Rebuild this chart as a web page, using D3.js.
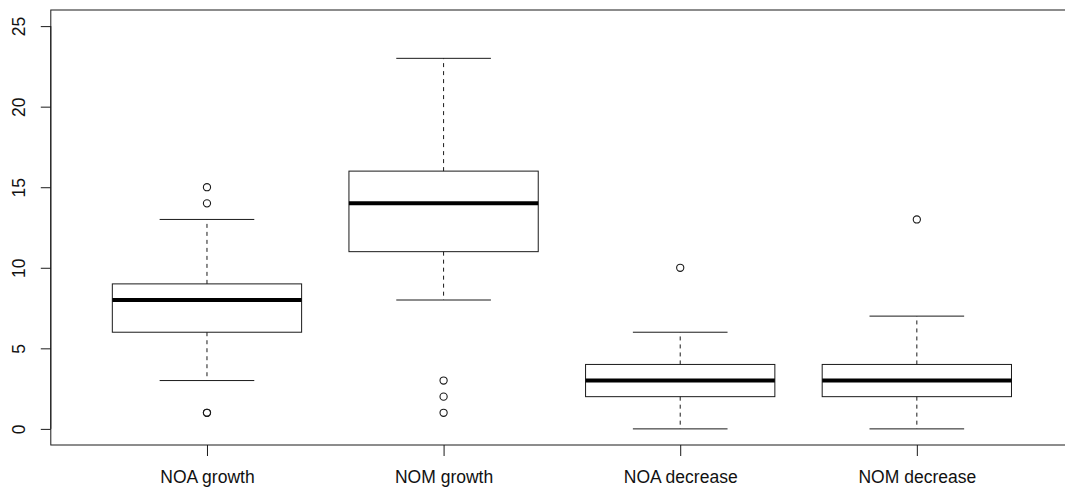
<!DOCTYPE html>
<html>
<head>
<meta charset="utf-8">
<script src="https://cdn.jsdelivr.net/npm/d3@7"></script>
<style>
  html, body { margin: 0; padding: 0; background: #fff; overflow: hidden; }
  svg { display: block; }
  text { font-family: "Liberation Sans", Arial, Helvetica, sans-serif; }
</style>
</head>
<body>
<svg id="chart" width="1065" height="489"></svg>
<script>
// Groups and their five-number summaries (whisker low, Q1, median, Q3, whisker high)
const categories = ["NOA growth", "NOM growth", "NOA decrease", "NOM decrease"];
const whiskerLow = [3, 8, 0, 0];
const q1 = [6, 11, 2, 2];
const median = [8, 14, 3, 3];
const q3 = [9, 16, 4, 4];
const whiskerHigh = [13, 23, 6, 7];
const outliers = [[1, 1, 14, 15], [1, 2, 3], [10], [13]];
const yTicks = [0, 5, 10, 15, 20, 25];

const svg = d3.select("#chart");

// Plot region (right edge runs past the window)
const plot = { left: 50.8, right: 1073, top: 10, bottom: 445 };

const x = d3.scaleLinear().domain([0.34, 4.66]).range([plot.left, plot.right]);
const y = d3.scaleLinear().domain([-1, 26]).range([plot.bottom, plot.top]);

const boxHalf = x(1.4) - x(1);      // half of a 0.8-wide box
const capHalf = boxHalf / 2;

const stats = categories.map((c, i) => ({
  name: c, pos: i + 1,
  lo: whiskerLow[i], q1: q1[i], med: median[i], q3: q3[i], hi: whiskerHigh[i],
  out: outliers[i]
}));

const g = svg.append("g");
const ink = "#1a1a1a";

stats.forEach(s => {
  const cx = x(s.pos);
  // Dashed whiskers
  [[s.q3, s.hi], [s.q1, s.lo]].forEach(([a, b]) => {
    g.append("line").attr("x1", cx).attr("x2", cx)
      .attr("y1", y(a)).attr("y2", y(b))
      .attr("stroke", ink).attr("stroke-width", 1).attr("stroke-dasharray", "4,4");
  });
  // Whisker caps
  [s.lo, s.hi].forEach(v => {
    g.append("line").attr("x1", cx - capHalf).attr("x2", cx + capHalf)
      .attr("y1", y(v)).attr("y2", y(v))
      .attr("stroke", ink).attr("stroke-width", 1);
  });
  // Box
  g.append("rect")
    .attr("x", cx - boxHalf).attr("y", y(s.q3))
    .attr("width", 2 * boxHalf).attr("height", y(s.q1) - y(s.q3))
    .attr("fill", "none").attr("stroke", ink).attr("stroke-width", 1);
  // Median
  g.append("line").attr("x1", cx - boxHalf).attr("x2", cx + boxHalf)
    .attr("y1", y(s.med)).attr("y2", y(s.med))
    .attr("stroke", "#000").attr("stroke-width", 4);
  // Outliers
  g.selectAll(null).data(s.out).enter().append("circle")
    .attr("cx", cx).attr("cy", d => y(d)).attr("r", 3.6)
    .attr("fill", "none").attr("stroke", ink).attr("stroke-width", 1.1);
});

// Frame
svg.append("rect")
  .attr("x", plot.left).attr("y", plot.top)
  .attr("width", plot.right - plot.left).attr("height", plot.bottom - plot.top)
  .attr("fill", "none").attr("stroke", ink).attr("stroke-width", 1);

// Y axis
const yAxis = svg.append("g")
  .attr("transform", `translate(${plot.left},0)`)
  .call(d3.axisLeft(y).tickValues(yTicks).tickSize(10).tickSizeOuter(0).tickPadding(0));
yAxis.select(".domain").attr("d", `M0,${y(0)}V${y(25)}`).attr("stroke", ink);
yAxis.selectAll(".tick line").attr("stroke", ink);
yAxis.selectAll(".tick text")
  .attr("font-size", 17.5).attr("fill", "#111")
  .attr("text-anchor", "middle")
  .attr("x", null).attr("dy", null)
  .attr("transform", "translate(-25.5,0) rotate(-90)");

// X axis
const xAxis = svg.append("g")
  .attr("transform", `translate(0,${plot.bottom})`)
  .call(d3.axisBottom(x).tickValues(stats.map(s => s.pos))
    .tickFormat((d, i) => categories[i]).tickSize(11).tickSizeOuter(0).tickPadding(0));
xAxis.select(".domain").remove();
xAxis.selectAll(".tick line").attr("stroke", ink);
xAxis.selectAll(".tick text")
  .attr("font-size", 17.5).attr("fill", "#111")
  .attr("dy", null).attr("y", 38);
</script>
</body>
</html>
